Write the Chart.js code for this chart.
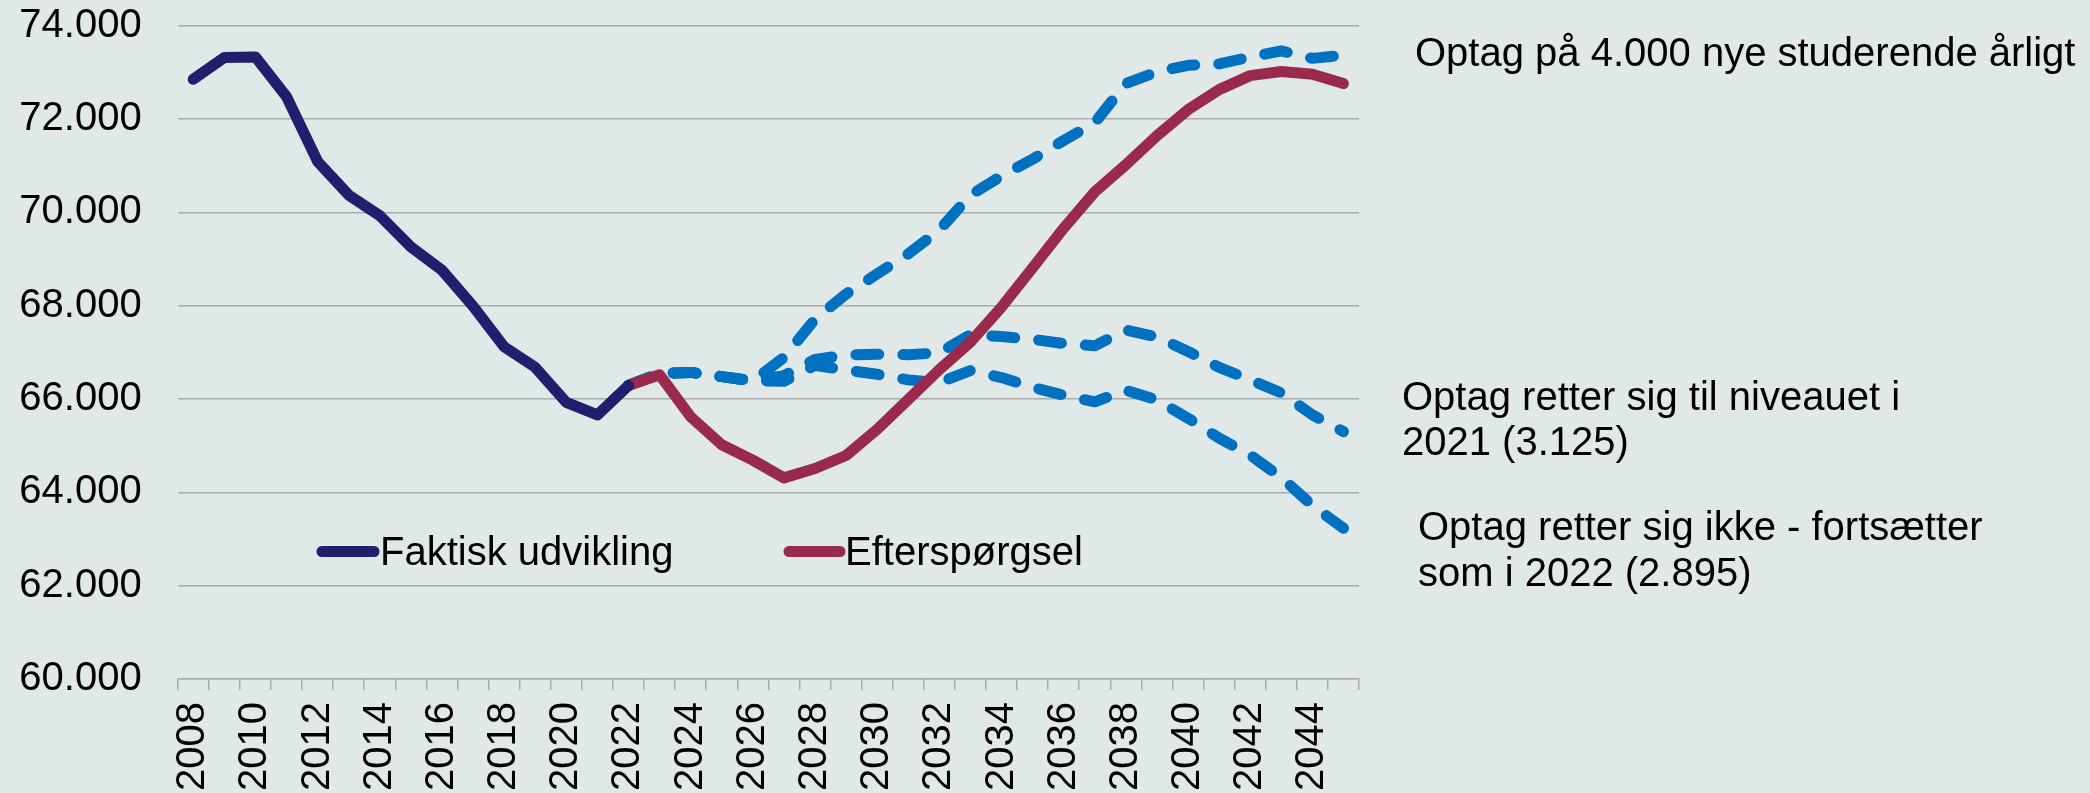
<!DOCTYPE html>
<html lang="da">
<head>
<meta charset="utf-8">
<title>Studerende</title>
<script src="https://cdn.jsdelivr.net/npm/chart.js"></script>
<style>
  body { margin: 0; background: #e1e8e8; font-family: 'Liberation Sans', Arial, sans-serif; }
  #wrap { position: relative; width: 2090px; height: 793px; }
  .note { position: absolute; font-size: 40px; color: #000; white-space: nowrap; }
</style>
</head>
<body>
<div id="wrap">
  <canvas id="chart"></canvas>
  <div class="note" style="left:1415px; top:30px; line-height:45px;">Optag på 4.000 nye studerende årligt</div>
  <div class="note" style="left:1402px; top:374px; line-height:44.5px;">Optag retter sig til niveauet i<br>2021 (3.125)</div>
  <div class="note" style="left:1418px; top:504px; line-height:45.5px;">Optag retter sig ikke - fortsætter<br>som i 2022 (2.895)</div>
</div>
<script>
const years = [];
for (let y = 2008; y <= 2045; y++) years.push(String(y));

// faktisk udvikling 2008-2022
const faktisk = [72850, 73320, 73330, 72480, 71090, 70370, 69930, 69260, 68760, 67990,
  67120, 66680, 65930, 65660, 66290];

// efterspørgsel 2022-2045
const efterspoergsel = [66290, 66520, 65620, 65020, 64690, 64310, 64510, 64790, 65350, 65990,
  66630, 67220, 67970, 68810, 69660, 70440, 71020, 71640, 72200, 72630, 72930, 73020, 72960, 72760];

// scenarier 2022-2045
const optag4000 = [66290, 66550, 66570, 66480, 66390, 66890, 67710, 68250, 68680, 69110,
  69620, 70370, 70780, 71140, 71540, 71920, 72760, 73010, 73150, 73180, 73330, 73460, 73300, 73370];
const optag3125 = [66290, 66550, 66570, 66480, 66390, 66500, 66850, 66940, 66960, 66950,
  66990, 67380, 67340, 67280, 67190, 67140, 67480, 67330, 67020, 66680, 66410, 66130, 65660, 65300];
const optag2895 = [66290, 66550, 66570, 66480, 66390, 66380, 66720, 66620, 66530, 66410,
  66350, 66610, 66460, 66250, 66080, 65940, 66190, 65980, 65590, 65160, 64800, 64320, 63720, 63230];

const yTicks = [60000, 62000, 64000, 66000, 68000, 70000, 72000, 74000];

const fontFam = "'Liberation Sans', Arial, sans-serif";
const gridColor = '#ababab';

// fill the series out to the full year axis
function fromYear(start, vals) {
  const out = years.map(() => null);
  const off = years.indexOf(String(start));
  vals.forEach((v, i) => { out[off + i] = v; });
  return out;
}

function dots(v) {
  return String(v).replace(/\B(?=(\d{3})+(?!\d))/g, '.');
}

const lineBase = { borderWidth: 11, pointRadius: 0, tension: 0, fill: false,
  borderCapStyle: 'round', borderJoinStyle: 'round' };
const dash = [23, 24];

const legendPlugin = {
  id: 'plotLegend',
  afterDraw(chart) {
    const c = chart.ctx;
    const items = [{ ds: 0, x1: 322, x2: 374, tx: 380 }, { ds: 1, x1: 789, x2: 840, tx: 845 }];
    c.save();
    items.forEach(it => {
      const ds = chart.data.datasets[it.ds];
      c.strokeStyle = ds.borderColor;
      c.lineWidth = 11;
      c.lineCap = 'round';
      c.beginPath();
      c.moveTo(it.x1, 551.5);
      c.lineTo(it.x2, 551.5);
      c.stroke();
      c.fillStyle = '#000';
      c.font = '40px ' + fontFam;
      c.textBaseline = 'alphabetic';
      c.fillText(ds.label, it.tx, 565);
    });
    c.restore();
  }
};

var ctx = document.getElementById('chart').getContext('2d');

let chart = new Chart(ctx, {
  type: 'line',
  data: {
    labels: years,
    datasets: [
      Object.assign({ label: 'Faktisk udvikling', data: fromYear(2008, faktisk), borderColor: '#1f1f6e' }, lineBase),
      Object.assign({ label: 'Efterspørgsel', data: fromYear(2022, efterspoergsel), borderColor: '#992a4b' }, lineBase),
      Object.assign({ label: 'Optag på 4.000 nye studerende årligt', data: fromYear(2022, optag4000),
        borderColor: '#0070c0', borderDash: dash }, lineBase),
      Object.assign({ label: 'Optag retter sig til niveauet i 2021 (3.125)', data: fromYear(2022, optag3125),
        borderColor: '#0070c0', borderDash: dash }, lineBase),
      Object.assign({ label: 'Optag retter sig ikke - fortsætter som i 2022 (2.895)', data: fromYear(2022, optag2895),
        borderColor: '#0070c0', borderDash: dash }, lineBase)
    ]
  },
  options: {
    responsive: true,
    maintainAspectRatio: false,
    animation: false,
    devicePixelRatio: 1,
    layout: { autoPadding: false, padding: { left: 0, right: 731, top: 25.7, bottom: 0 } },
    plugins: { legend: { display: false }, tooltip: { enabled: false } },
    scales: {
      x: {
        offset: true,
        grid: { offset: true, drawOnChartArea: false, drawTicks: true, tickLength: 11, color: gridColor, lineWidth: 1.5 },
        border: { display: true, color: gridColor, width: 1.5 },
        ticks: {
          autoSkip: false, minRotation: 90, maxRotation: 90, padding: 12, color: '#000',
          font: { size: 40, family: fontFam },
          callback: function (val, i) { return i % 2 === 0 ? this.getLabelForValue(val) : ''; }
        },
        afterFit: s => { s.height = 114; s.paddingLeft = 0; s.paddingRight = 0; }
      },
      y: {
        min: yTicks[0],
        max: yTicks[yTicks.length - 1],
        afterBuildTicks: s => { s.ticks = yTicks.map(v => ({ value: v })); },
        grid: { color: gridColor, lineWidth: 1.5, drawTicks: false },
        border: { display: false },
        ticks: { padding: 36, color: '#000', font: { size: 40, family: fontFam }, callback: v => dots(v) },
        afterFit: s => { s.width = 177.7; s.paddingTop = 0; s.paddingBottom = 0; }
      }
    }
  },
  plugins: [legendPlugin]
});
</script>
</body>
</html>
